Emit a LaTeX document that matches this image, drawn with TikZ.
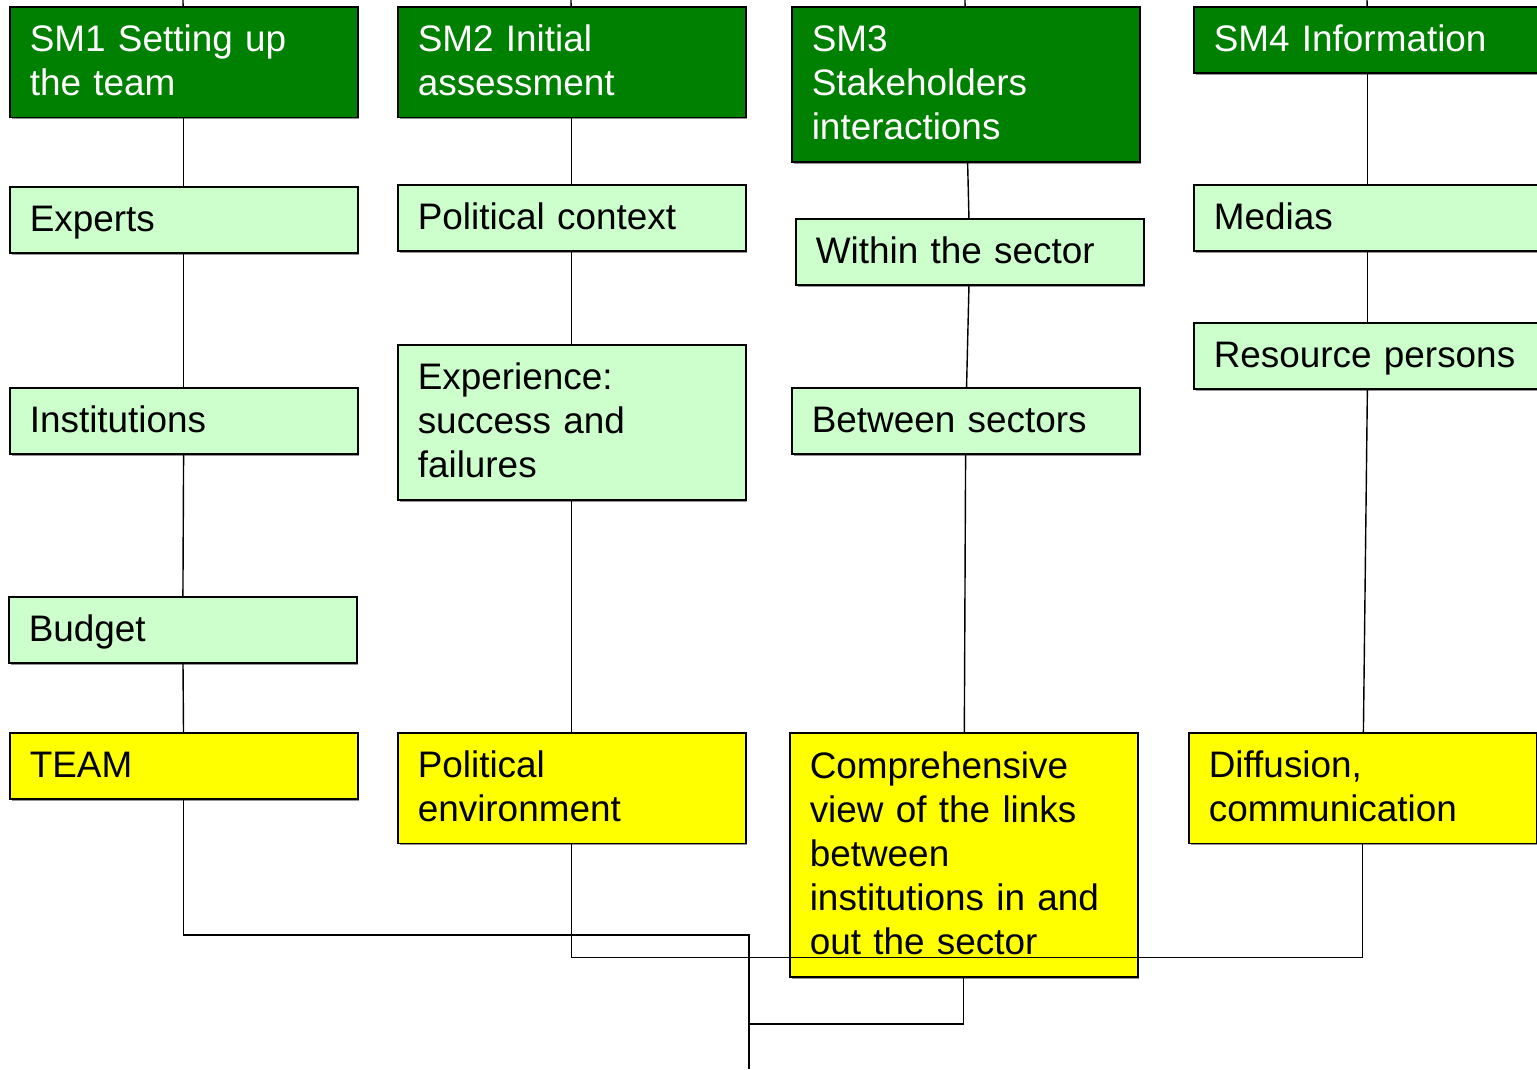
\documentclass[tikz,border=0pt]{standalone}
\usepackage{fontspec}
\setmainfont{Liberation Sans}
\usetikzlibrary{shadows}
\definecolor{smgreen}{RGB}{0,128,0}
\definecolor{itemgreen}{RGB}{204,255,204}
\definecolor{resultyellow}{RGB}{255,255,0}
\newcommand\boxstrut{\rule[-6pt]{0pt}{25pt}}
\tikzset{lines/.style={minimum height=0.44cm+#1*0.888cm}}

\begin{document}
\begin{tikzpicture}[x=0.02cm, y=-0.02cm,
    box/.style={rectangle, draw=black, line width=0.9pt, anchor=north west, align=left,
      text width=6.16cm, inner xsep=0.4cm, inner ysep=0pt,
      font=\fontsize{21}{25}\selectfont,
      execute at begin node=\boxstrut, execute at end node=\boxstrut,
      drop shadow={shadow xshift=0.035cm, shadow yshift=-0.035cm, fill=black!60, opacity=0.7}},
    sm/.style={box, fill=smgreen, text=white},
    item/.style={box, fill=itemgreen},
    result/.style={box, fill=resultyellow},
    link/.style={line width=0.8pt}]

    \useasboundingbox (0,0) rectangle (1537,1069);

    % SM1
    \node(sm1)[sm, lines=2] at (9,6) {SM1 Setting up\\the team};
    \node(experts)[item, lines=1] at (9,186) {Experts};
    \node(inst)[item, lines=1] at (9,387) {Institutions};
    \node(budget)[item, lines=1] at (8,596) {Budget};
    \node(team)[result, lines=1] at (9,732) {TEAM};

    % SM2
    \node(sm2)[sm, lines=2] at (397,6) {SM2 Initial\\assessment};
    \node(polctx)[item, lines=1] at (397,184) {Political context};
    \node(exper)[item, lines=3] at (397,344) {Experience:\\success and\\failures};
    \node(polenv)[result, lines=2] at (397,732) {Political\\environment};

    % SM3
    \node(sm3)[sm, lines=3] at (791,6) {SM3\\Stakeholders\\interactions};
    \node(within)[item, lines=1] at (795,218) {Within the sector};
    \node(between)[item, lines=1] at (791,387) {Between sectors};
    \node(comp)[result, lines=5] at (789,732) {Comprehensive\\view of the links\\between\\institutions in and\\out the sector};

    % SM4
    \node(sm4)[sm, lines=1] at (1193,6) {SM4 Information};
    \node(medias)[item, lines=1] at (1193,184) {Medias};
    \node(resource)[item, lines=1] at (1193,322) {Resource persons};
    \node(diff)[result, lines=2] at (1188,732) {Diffusion,\\communication};

    \coordinate (top1) at (183,0);
    \coordinate (top2) at (571,0);
    \coordinate (top3) at (965,0);
    \coordinate (top4) at (1367,0);
    \coordinate (merge) at (749,935);
    \coordinate (tap) at (749,1024);
    \coordinate (exit) at (749,1069);

    \foreach \a/\b in {top1/sm1, sm1/experts, experts/inst, inst/budget, budget/team,
                       top2/sm2, sm2/polctx, polctx/exper, exper/polenv,
                       top3/sm3, sm3/within, within/between, between/comp,
                       top4/sm4, sm4/medias, medias/resource, resource/diff}
      \draw[link] (\a) -- (\b);

    \draw[link] (team.south) |- (merge) -- (exit);
    \draw[link] (polenv.south) -- ++(0,113) -| (diff.south);
    \draw[link] (comp.south) |- (tap);

  \end{tikzpicture}
\end{document}
